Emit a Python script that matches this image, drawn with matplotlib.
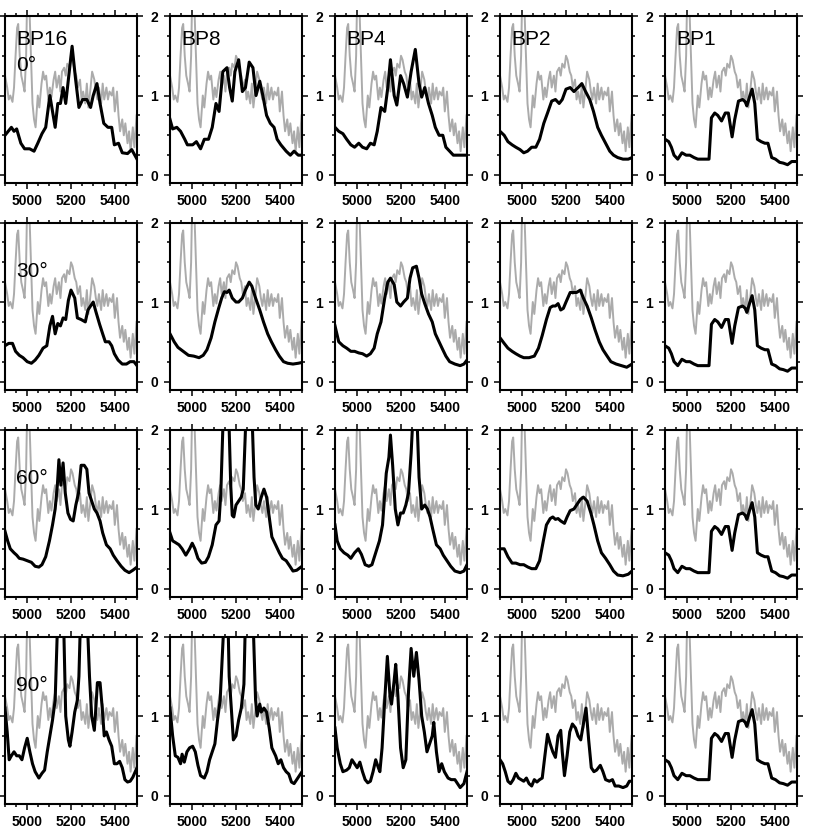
import matplotlib
matplotlib.use("Agg")
import matplotlib.pyplot as plt
from matplotlib.ticker import FixedLocator, MultipleLocator
from matplotlib.font_manager import FontProperties

plt.rcParams['font.family'] = ['Liberation Sans', 'DejaVu Sans']

# ---------------- data ----------------
GRAY_WL = [4900, 4910, 4917, 4924, 4934, 4941, 4948, 4955, 4960, 4967, 4974, 4982, 4989, 4996, 5001, 5006,
           5010, 5018, 5025, 5032, 5039, 5049, 5056, 5066, 5073, 5080, 5087, 5097, 5104, 5111, 5121, 5128,
           5135, 5145, 5152, 5159, 5169, 5176, 5183, 5193, 5200, 5207, 5217, 5224, 5231, 5241, 5248, 5255,
           5265, 5272, 5279, 5289, 5296, 5306, 5313, 5320, 5327, 5337, 5344, 5351, 5361, 5368, 5375, 5385,
           5392, 5399, 5409, 5416, 5423, 5433, 5440, 5447, 5457, 5464, 5471, 5481, 5488, 5498]
GRAY_FL = [1.25, 1.10, 0.95, 1.00, 0.92, 1.10, 1.50, 1.85, 1.90, 1.50, 1.25, 1.15, 1.05, 1.50, 2.30, 2.40,
           2.20, 1.50, 0.90, 0.70, 0.60, 1.00, 0.85, 1.15, 1.30, 1.20, 1.25, 0.95, 1.10, 0.98, 1.20, 1.30,
           1.10, 1.25, 1.05, 1.30, 1.35, 1.25, 1.40, 1.35, 1.50, 1.45, 1.30, 1.25, 1.10, 1.20, 0.95, 1.05,
           0.90, 1.15, 0.85, 1.10, 1.30, 1.20, 1.05, 0.95, 1.10, 0.90, 1.15, 0.95, 1.10, 0.95, 1.05, 1.00,
           1.10, 0.80, 1.05, 0.75, 0.55, 0.70, 0.50, 0.65, 0.40, 0.55, 0.30, 0.60, 0.35, 0.75]

# row 0 deg
BP16_0_WL = [4900, 4929, 4941, 4953, 4972, 4989, 5012, 5032, 5049, 5068, 5085, 5104, 5116, 5128, 5140, 5152,
             5164, 5176, 5188, 5205, 5221, 5236, 5253, 5272, 5289, 5301, 5318, 5332, 5349, 5368, 5385, 5397,
             5416, 5433, 5457, 5476, 5500]
BP16_0_FL = [0.50, 0.60, 0.55, 0.58, 0.40, 0.33, 0.33, 0.30, 0.40, 0.52, 0.60, 1.00, 0.80, 0.60, 0.90, 0.90,
             1.10, 0.90, 1.20, 1.62, 1.20, 0.85, 0.95, 0.95, 0.85, 1.00, 1.15, 0.90, 0.65, 0.60, 0.60, 0.38,
             0.40, 0.28, 0.27, 0.32, 0.20]
BP8_0_WL = [4900, 4912, 4931, 4948, 4967, 4979, 5003, 5020, 5039, 5056, 5075, 5092, 5109, 5123, 5140, 5159,
            5171, 5183, 5195, 5212, 5229, 5243, 5260, 5277, 5291, 5308, 5322, 5339, 5356, 5373, 5387, 5404,
            5428, 5447, 5464, 5483, 5500]
BP8_0_FL = [0.70, 0.58, 0.60, 0.55, 0.45, 0.38, 0.38, 0.42, 0.33, 0.45, 0.45, 0.60, 0.90, 0.80, 1.30, 1.35,
            1.10, 0.93, 1.30, 1.45, 1.05, 1.10, 1.42, 1.35, 1.00, 1.18, 1.00, 0.75, 0.65, 0.60, 0.45, 0.38,
            0.30, 0.25, 0.30, 0.25, 0.25]
BP4_0_WL = [4900, 4917, 4936, 4953, 4972, 4989, 5008, 5025, 5044, 5061, 5078, 5092, 5109, 5126, 5140, 5152,
            5169, 5181, 5198, 5212, 5229, 5246, 5265, 5282, 5294, 5308, 5325, 5342, 5356, 5373, 5390, 5404,
            5421, 5438, 5457, 5476, 5500]
BP4_0_FL = [0.60, 0.55, 0.52, 0.45, 0.38, 0.35, 0.40, 0.35, 0.33, 0.40, 0.38, 0.55, 0.85, 0.80, 1.10, 1.45,
            1.00, 0.88, 1.25, 1.15, 0.98, 1.30, 1.58, 1.15, 0.98, 1.10, 0.90, 0.75, 0.60, 0.50, 0.50, 0.35,
            0.30, 0.25, 0.25, 0.25, 0.25]
BP2_0_WL = [4900, 4919, 4936, 4955, 4972, 4991, 5008, 5025, 5044, 5063, 5080, 5099, 5116, 5135, 5152, 5169,
            5183, 5200, 5219, 5236, 5255, 5272, 5289, 5308, 5325, 5344, 5361, 5380, 5399, 5416, 5435, 5459,
            5483, 5500]
BP2_0_FL = [0.55, 0.50, 0.42, 0.38, 0.35, 0.32, 0.28, 0.30, 0.35, 0.35, 0.45, 0.65, 0.78, 0.93, 0.95, 0.90,
            0.95, 1.08, 1.10, 1.05, 1.10, 1.15, 1.05, 0.95, 0.80, 0.60, 0.50, 0.40, 0.30, 0.25, 0.22, 0.20,
            0.20, 0.22]
BP1_WL = [4900, 4917, 4929, 4941, 4958, 4977, 4996, 5013, 5032, 5049, 5068, 5085, 5100, 5111, 5126, 5140,
          5157, 5174, 5188, 5205, 5217, 5234, 5253, 5265, 5272, 5284, 5296, 5308, 5320, 5337, 5354, 5368,
          5385, 5402, 5421, 5438, 5457, 5476, 5500]
BP1_FL = [0.45, 0.42, 0.35, 0.25, 0.20, 0.28, 0.25, 0.25, 0.22, 0.20, 0.20, 0.20, 0.20, 0.72, 0.78, 0.75,
          0.68, 0.78, 0.78, 0.48, 0.70, 0.93, 0.95, 0.92, 0.87, 0.98, 1.08, 0.90, 0.45, 0.42, 0.40, 0.40,
          0.22, 0.20, 0.16, 0.15, 0.13, 0.17, 0.17]

# row 30 deg
BP16_30_WL = [4900, 4917, 4934, 4948, 4965, 4982, 5001, 5020, 5037, 5054, 5073, 5090, 5104, 5116, 5128, 5140,
              5152, 5164, 5176, 5188, 5200, 5217, 5229, 5246, 5265, 5277, 5289, 5301, 5313, 5330, 5344, 5356,
              5373, 5385, 5397, 5414, 5433, 5452, 5469, 5486, 5500]
BP16_30_FL = [0.45, 0.48, 0.48, 0.38, 0.33, 0.30, 0.25, 0.23, 0.27, 0.33, 0.42, 0.45, 0.70, 0.82, 0.60, 0.73,
              0.70, 0.80, 0.78, 1.02, 1.15, 1.05, 0.80, 0.78, 0.75, 0.90, 0.95, 1.00, 0.88, 0.72, 0.60, 0.50,
              0.50, 0.45, 0.35, 0.27, 0.22, 0.22, 0.25, 0.25, 0.20]
BP8_30_WL = [4900, 4919, 4936, 4960, 4984, 5008, 5032, 5051, 5068, 5087, 5104, 5121, 5135, 5147, 5159, 5169,
             5183, 5200, 5212, 5229, 5243, 5260, 5272, 5289, 5308, 5325, 5344, 5361, 5380, 5397, 5416, 5435,
             5459, 5483, 5500]
BP8_30_FL = [0.60, 0.50, 0.43, 0.38, 0.33, 0.32, 0.30, 0.33, 0.40, 0.55, 0.75, 0.92, 1.05, 1.13, 1.12, 1.15,
             1.05, 1.00, 1.00, 1.05, 1.15, 1.25, 1.20, 1.05, 0.90, 0.75, 0.60, 0.50, 0.40, 0.32, 0.25, 0.23,
             0.22, 0.23, 0.24]
BP4_30_WL = [4900, 4917, 4936, 4953, 4972, 4989, 5008, 5025, 5044, 5061, 5078, 5092, 5109, 5126, 5140, 5152,
             5169, 5181, 5198, 5212, 5229, 5241, 5253, 5270, 5282, 5294, 5308, 5325, 5342, 5356, 5373, 5390,
             5404, 5421, 5445, 5469, 5486, 5500]
BP4_30_FL = [0.70, 0.50, 0.45, 0.42, 0.38, 0.38, 0.36, 0.35, 0.32, 0.35, 0.42, 0.60, 0.75, 1.05, 1.25, 1.30,
             1.22, 1.00, 0.95, 1.00, 1.05, 1.30, 1.43, 1.45, 1.30, 1.10, 0.98, 0.85, 0.75, 0.60, 0.50, 0.40,
             0.32, 0.25, 0.22, 0.20, 0.22, 0.27]
BP2_30_WL = [4900, 4919, 4936, 4955, 4972, 4991, 5008, 5032, 5056, 5075, 5092, 5111, 5128, 5140, 5152, 5164,
             5176, 5188, 5200, 5219, 5231, 5248, 5265, 5279, 5296, 5315, 5332, 5351, 5368, 5387, 5404, 5428,
             5452, 5476, 5500]
BP2_30_FL = [0.55, 0.48, 0.42, 0.38, 0.35, 0.32, 0.30, 0.30, 0.32, 0.42, 0.58, 0.78, 0.93, 0.95, 0.95, 0.98,
             0.90, 0.92, 1.00, 1.12, 1.12, 1.12, 1.15, 1.05, 0.95, 0.80, 0.65, 0.50, 0.40, 0.32, 0.25, 0.22,
             0.20, 0.18, 0.22]

# row 60 deg
BP16_60_WL = [4900, 4912, 4924, 4941, 4953, 4965, 4982, 5001, 5020, 5037, 5054, 5068, 5085, 5102, 5116, 5128,
              5138, 5145, 5154, 5164, 5174, 5186, 5198, 5210, 5222, 5234, 5246, 5260, 5272, 5282, 5294, 5306,
              5318, 5332, 5344, 5361, 5378, 5392, 5409, 5428, 5445, 5464, 5481, 5500]
BP16_60_FL = [0.72, 0.60, 0.50, 0.45, 0.42, 0.38, 0.37, 0.35, 0.33, 0.28, 0.27, 0.30, 0.40, 0.60, 0.80, 1.00,
              1.30, 1.62, 1.30, 1.58, 1.20, 0.95, 0.87, 0.85, 1.05, 1.20, 1.55, 1.55, 1.50, 1.20, 1.10, 1.00,
              0.95, 0.85, 0.70, 0.55, 0.50, 0.42, 0.35, 0.28, 0.23, 0.20, 0.23, 0.27]
BP8_60_WL = [4900, 4912, 4924, 4941, 4955, 4972, 4989, 5001, 5013, 5027, 5044, 5061, 5075, 5092, 5109, 5123,
             5131, 5140, 5150, 5160, 5169, 5176, 5183, 5190, 5200, 5212, 5224, 5233, 5243, 5255, 5265, 5275,
             5282, 5290, 5301, 5315, 5327, 5339, 5351, 5363, 5380, 5397, 5411, 5428, 5445, 5459, 5476, 5500]
BP8_60_FL = [0.70, 0.60, 0.58, 0.55, 0.50, 0.42, 0.50, 0.57, 0.50, 0.38, 0.32, 0.33, 0.40, 0.55, 0.80, 0.85,
             1.20, 2.00, 2.80, 2.80, 2.00, 1.30, 0.92, 0.90, 1.05, 1.10, 1.15, 1.25, 2.00, 2.80, 2.80, 2.00,
             1.40, 1.05, 1.00, 1.15, 1.25, 1.15, 0.90, 0.65, 0.55, 0.45, 0.38, 0.35, 0.28, 0.22, 0.23, 0.28]
BP4_60_WL = [4900, 4910, 4924, 4941, 4958, 4972, 4989, 5006, 5020, 5037, 5054, 5068, 5085, 5102, 5116, 5133,
             5145, 5152, 5162, 5174, 5186, 5198, 5210, 5222, 5234, 5246, 5255, 5262, 5272, 5282, 5294, 5308,
             5320, 5332, 5344, 5361, 5378, 5392, 5409, 5426, 5445, 5469, 5486, 5500]
BP4_60_FL = [0.80, 0.60, 0.50, 0.45, 0.42, 0.38, 0.45, 0.50, 0.43, 0.30, 0.28, 0.30, 0.45, 0.60, 0.80, 1.45,
             1.65, 1.93, 1.55, 1.00, 0.80, 0.95, 0.95, 1.05, 1.20, 1.70, 2.20, 2.60, 2.20, 1.40, 1.00, 1.05,
             1.00, 0.90, 0.75, 0.55, 0.50, 0.42, 0.35, 0.28, 0.22, 0.20, 0.22, 0.30]
BP2_60_WL = [4900, 4919, 4936, 4955, 4972, 4991, 5008, 5027, 5044, 5063, 5080, 5097, 5111, 5128, 5140, 5152,
             5164, 5176, 5193, 5205, 5219, 5236, 5248, 5265, 5279, 5296, 5313, 5327, 5344, 5361, 5380, 5399,
             5416, 5435, 5459, 5483, 5500]
BP2_60_FL = [0.50, 0.50, 0.40, 0.32, 0.32, 0.30, 0.30, 0.27, 0.25, 0.25, 0.35, 0.60, 0.80, 0.88, 0.90, 0.87,
             0.88, 0.85, 0.82, 0.90, 0.98, 1.00, 1.05, 1.12, 1.15, 1.10, 0.95, 0.80, 0.60, 0.45, 0.38, 0.30,
             0.22, 0.17, 0.16, 0.18, 0.22]

# row 90 deg
BP16_90_WL = [4900, 4910, 4919, 4929, 4941, 4953, 4965, 4977, 4989, 5001, 5013, 5025, 5037, 5054, 5068, 5080,
              5092, 5104, 5116, 5128, 5137, 5148, 5160, 5168, 5176, 5188, 5195, 5205, 5217, 5229, 5236, 5241,
              5255, 5265, 5277, 5284, 5294, 5306, 5313, 5320, 5332, 5342, 5351, 5361, 5373, 5385, 5397, 5409,
              5421, 5433, 5445, 5457, 5469, 5481, 5500]
BP16_90_FL = [1.10, 0.80, 0.45, 0.50, 0.55, 0.50, 0.50, 0.45, 0.60, 0.72, 0.55, 0.40, 0.30, 0.22, 0.28, 0.32,
              0.55, 0.75, 0.95, 1.20, 2.00, 2.80, 2.80, 2.00, 1.00, 0.70, 0.62, 0.80, 1.05, 1.20, 1.50, 2.00,
              2.80, 2.80, 2.00, 1.50, 1.00, 0.82, 1.10, 1.42, 1.42, 1.10, 0.75, 0.80, 0.70, 0.62, 0.40, 0.40,
              0.43, 0.35, 0.20, 0.17, 0.18, 0.23, 0.35]
BP8_90_WL = [4900, 4912, 4924, 4936, 4948, 4955, 4965, 4977, 4989, 5003, 5015, 5027, 5039, 5056, 5068, 5080,
             5092, 5104, 5116, 5128, 5135, 5142, 5150, 5159, 5169, 5181, 5188, 5200, 5212, 5224, 5236, 5241,
             5255, 5265, 5280, 5289, 5296, 5308, 5315, 5327, 5339, 5351, 5363, 5380, 5392, 5404, 5416, 5428,
             5440, 5452, 5464, 5476, 5500]
BP8_90_FL = [1.10, 0.75, 0.50, 0.48, 0.40, 0.52, 0.42, 0.55, 0.60, 0.62, 0.55, 0.38, 0.25, 0.22, 0.30, 0.45,
             0.55, 0.65, 0.95, 1.20, 1.60, 2.00, 2.80, 2.80, 1.50, 1.00, 0.70, 0.75, 0.95, 1.10, 1.40, 2.00,
             2.80, 2.80, 2.00, 1.20, 1.00, 1.15, 1.05, 1.10, 1.05, 0.85, 0.60, 0.50, 0.40, 0.45, 0.35, 0.30,
             0.27, 0.17, 0.15, 0.20, 0.30]
BP4_90_WL = [4900, 4910, 4924, 4936, 4953, 4965, 4977, 4989, 5001, 5013, 5025, 5037, 5049, 5061, 5073, 5085,
             5097, 5104, 5114, 5126, 5138, 5150, 5157, 5169, 5176, 5186, 5198, 5210, 5222, 5234, 5246, 5258,
             5270, 5282, 5294, 5306, 5318, 5330, 5342, 5349, 5361, 5373, 5385, 5397, 5414, 5428, 5445, 5457,
             5469, 5486, 5500]
BP4_90_FL = [0.85, 0.60, 0.40, 0.30, 0.32, 0.35, 0.45, 0.40, 0.35, 0.42, 0.30, 0.20, 0.16, 0.18, 0.30, 0.45,
             0.35, 0.30, 0.60, 1.20, 1.75, 1.25, 1.15, 1.45, 1.65, 1.25, 0.60, 0.35, 0.45, 1.30, 1.85, 1.50,
             1.80, 1.45, 1.00, 0.80, 0.55, 0.65, 0.75, 0.92, 0.55, 0.30, 0.40, 0.30, 0.22, 0.20, 0.20, 0.15,
             0.10, 0.15, 0.30]
BP2_90_WL = [4900, 4912, 4924, 4936, 4948, 4960, 4972, 4984, 4996, 5008, 5020, 5032, 5044, 5056, 5068, 5080,
             5092, 5104, 5116, 5128, 5140, 5152, 5164, 5176, 5183, 5193, 5205, 5217, 5229, 5243, 5255, 5267,
             5279, 5291, 5303, 5315, 5327, 5339, 5356, 5368, 5380, 5397, 5411, 5423, 5440, 5459, 5476, 5488,
             5500]
BP2_90_FL = [0.45, 0.40, 0.30, 0.18, 0.15, 0.20, 0.28, 0.22, 0.20, 0.18, 0.22, 0.15, 0.12, 0.20, 0.17, 0.20,
             0.22, 0.50, 0.77, 0.65, 0.55, 0.48, 0.75, 0.82, 0.55, 0.25, 0.50, 0.80, 0.90, 0.85, 0.75, 0.70,
             0.90, 1.10, 0.70, 0.35, 0.30, 0.32, 0.38, 0.30, 0.20, 0.18, 0.20, 0.12, 0.12, 0.10, 0.12, 0.18,
             0.18]

MODELS = ["BP16", "BP8", "BP4", "BP2", "BP1"]
ANGLES = ["0°", "30°", "60°", "90°"]
X_TICKS = [5000, 5200, 5400]
Y_TICKS = [0, 1, 2]

PANELS = [
    [(BP16_0_WL, BP16_0_FL), (BP8_0_WL, BP8_0_FL), (BP4_0_WL, BP4_0_FL), (BP2_0_WL, BP2_0_FL), (BP1_WL, BP1_FL)],
    [(BP16_30_WL, BP16_30_FL), (BP8_30_WL, BP8_30_FL), (BP4_30_WL, BP4_30_FL), (BP2_30_WL, BP2_30_FL), (BP1_WL, BP1_FL)],
    [(BP16_60_WL, BP16_60_FL), (BP8_60_WL, BP8_60_FL), (BP4_60_WL, BP4_60_FL), (BP2_60_WL, BP2_60_FL), (BP1_WL, BP1_FL)],
    [(BP16_90_WL, BP16_90_FL), (BP8_90_WL, BP8_90_FL), (BP4_90_WL, BP4_90_FL), (BP2_90_WL, BP2_90_FL), (BP1_WL, BP1_FL)],
]

# ---------------- layout ----------------
FW, FH = 830, 832
fig = plt.figure(figsize=(FW / 100, FH / 100), dpi=100)
lefts = [5, 170, 335, 500, 665]
tops = [16, 222.5, 429.5, 636.5]
W, H = 132, 167

tick_fp = FontProperties(family=['Liberation Sans', 'DejaVu Sans'], weight='bold', size=10)

for r, top in enumerate(tops):
    for c, left in enumerate(lefts):
        ax = fig.add_axes([left / FW, (FH - top - H) / FH, W / FW, H / FH])
        ax.plot(GRAY_WL, GRAY_FL, color='#ababab', lw=1.4, zorder=2)
        wl, fl = PANELS[r][c]
        ax.plot(wl, fl, color='black', lw=2.2, zorder=3, solid_joinstyle='round')
        ax.set_xlim(4900, 5500)
        ax.set_ylim(-0.1, 2.0)
        ax.xaxis.set_major_locator(FixedLocator(X_TICKS))
        ax.xaxis.set_minor_locator(MultipleLocator(50))
        ax.yaxis.set_major_locator(FixedLocator(Y_TICKS))
        ax.yaxis.set_minor_locator(MultipleLocator(0.25))
        ax.tick_params(which='both', direction='out', top=True, right=True, width=1.1,
                       labeltop=False, labelright=False, labelleft=(c > 0), labelbottom=True)
        ax.tick_params(which='major', length=4.5)
        ax.tick_params(which='minor', length=2.3)
        ax.tick_params(axis='x', which='major', pad=3.5)
        ax.tick_params(axis='y', which='major', pad=4)
        for lab in ax.get_xticklabels() + ax.get_yticklabels():
            lab.set_fontproperties(tick_fp)
        for sp in ax.spines.values():
            sp.set_linewidth(1.5)
        if r == 0:
            ax.text(0.083, 0.826, MODELS[c], transform=ax.transAxes, fontsize=15,
                    ha='left', va='baseline')
        if c == 0:
            ax.text(0.083, 0.671, ANGLES[r], transform=ax.transAxes, fontsize=15,
                    ha='left', va='baseline')

fig.savefig('out.png', dpi=100)
